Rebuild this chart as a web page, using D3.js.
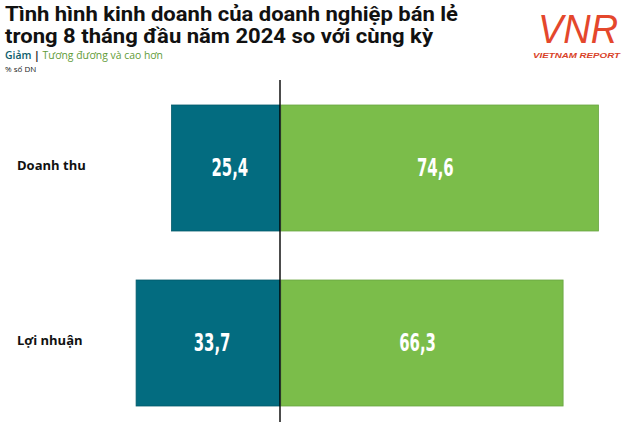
<!DOCTYPE html>
<html>
<head>
<meta charset="utf-8">
<script src="https://cdn.jsdelivr.net/npm/d3@7"></script>
<style>
  body { margin: 0; background: #fff; }
  svg { display: block; }
</style>
</head>
<body>
<div class="chart"></div>
<script>
// data
var categories = ['Doanh thu', 'Lợi nhuận']
var giam = [25.4, 33.7]
var tangHoacBang = [74.6, 66.3]
var seriesNames = ['Giảm', 'Tương đương và cao hơn']
var titleLines = ['Tình hình kinh doanh của doanh nghiệp bán lẻ', 'trong 8 tháng đầu năm 2024 so với cùng kỳ']
var unitLabel = '% số DN'

var width = 624, height = 422
var blue = '#036c80', green = '#7bbd4a'

var svg = d3.select('.chart').append('svg')
    .attr('width', width)
    .attr('height', height)

var x = d3.scaleLinear().domain([-35, 80]).range([280 - 35 * 4.27, 280 + 80 * 4.27])
var y = d3.scaleBand().domain(categories).range([80.5, 430.5]).paddingInner(0.28).paddingOuter(0.14)

function fmt(v) { return v.toFixed(1).replace('.', ',') }

var rows = categories.map(function(c, i) {
    return { cat: c, neg: giam[i], pos: tangHoacBang[i] }
})

// title
var fitW = [453, 428]
svg.selectAll('text.title')
    .data(titleLines)
    .enter()
    .append('text')
    .attr('class', 'title')
    .attr('x', 5)
    .attr('y', function(_, i) { return 21 + i * 22 })
    .style('font-family', 'Roboto, sans-serif')
    .style('font-weight', 700)
    .style('font-size', '20px')
    .style('fill', '#111')
    .text(function(d) { return d })
    .each(function(_, i) {
        d3.select(this).attr('textLength', fitW[i]).attr('lengthAdjust', 'spacingAndGlyphs')
    })

// legend
var leg = svg.append('text')
    .attr('x', 5)
    .attr('y', 59)
    .style('font-family', '"Open Sans", sans-serif')
    .style('font-size', '11px')
leg.append('tspan').style('fill', '#0b5d6c').style('font-weight', 600).text(seriesNames[0])
leg.append('tspan').style('fill', '#222').style('font-weight', 700).text(' | ')
leg.append('tspan').style('fill', '#5f9b36').text(seriesNames[1])
leg.attr('textLength', 158).attr('lengthAdjust', 'spacingAndGlyphs')

svg.append('text')
    .attr('x', 5)
    .attr('y', 72)
    .style('font-family', '"Open Sans", sans-serif')
    .style('font-size', '8px')
    .style('fill', '#222')
    .text(unitLabel)

// logo
var logo = svg.append('g').attr('class', 'logo')
logo.append('text')
    .attr('x', 538)
    .attr('y', 43)
    .attr('textLength', 80)
    .attr('lengthAdjust', 'spacingAndGlyphs')
    .style('font-family', '"Liberation Sans", sans-serif')
    .style('font-style', 'italic')
    .style('font-size', '40px')
    .style('fill', '#e4472c')
    .text('VNR')
logo.append('text')
    .attr('x', 533)
    .attr('y', 58)
    .attr('textLength', 87)
    .attr('lengthAdjust', 'spacingAndGlyphs')
    .style('font-family', '"Liberation Sans", sans-serif')
    .style('font-style', 'italic')
    .style('font-weight', 700)
    .style('font-size', '6.5px')
    .style('fill', '#d94228')
    .text('VIETNAM REPORT')

// bars
svg.selectAll('rect.neg')
    .data(rows)
    .enter()
    .append('rect')
    .attr('class', 'neg')
    .attr('x', function(d) { return x(-d.neg) })
    .attr('y', function(d) { return y(d.cat) })
    .attr('width', function(d) { return x(0) - x(-d.neg) })
    .attr('height', y.bandwidth())
    .style('fill', blue)
    .style('stroke', '#045a6a')
    .style('stroke-width', 0.8)

svg.selectAll('rect.pos')
    .data(rows)
    .enter()
    .append('rect')
    .attr('class', 'pos')
    .attr('x', x(0) + 1)
    .attr('y', function(d) { return y(d.cat) })
    .attr('width', function(d) { return x(d.pos) - x(0) - 1 })
    .attr('height', y.bandwidth())
    .style('fill', green)
    .style('stroke', '#6aa642')
    .style('stroke-width', 0.8)

// value labels
function valueLabel(cls, getX, getV) {
    svg.selectAll('text.' + cls)
        .data(rows)
        .enter()
        .append('text')
        .attr('class', cls)
        .attr('transform', function(d) {
            return 'translate(' + getX(d) + ',' + (y(d.cat) + y.bandwidth() / 2 + 8) + ') scale(0.72,1.05)'
        })
        .attr('text-anchor', 'middle')
        .style('font-family', '"Liberation Sans Narrow", "DejaVu Sans Condensed", sans-serif')
        .style('font-weight', 700)
        .style('font-size', '23px')
        .style('fill', '#fff')
        .text(function(d) { return fmt(getV(d)) })
}
valueLabel('lneg', function(d) { return (x(-d.neg) + x(0)) / 2 + 4 }, function(d) { return d.neg })
valueLabel('lpos', function(d) { return (x(0) + x(d.pos)) / 2 - 4 }, function(d) { return d.pos })

// category labels
svg.selectAll('text.cat')
    .data(categories)
    .enter()
    .append('text')
    .attr('class', 'cat')
    .attr('x', 17)
    .attr('y', function(d) { return y(d) + y.bandwidth() / 2 + 2 })
    .style('font-family', '"Open Sans", sans-serif')
    .style('font-weight', 700)
    .style('font-size', '13px')
    .style('fill', '#111')
    .text(function(d) { return d })

// zero line
svg.append('line')
    .attr('x1', x(0)).attr('x2', x(0))
    .attr('y1', 80).attr('y2', height)
    .style('stroke', '#000')
    .style('stroke-width', 1.4)
</script>
</body>
</html>
